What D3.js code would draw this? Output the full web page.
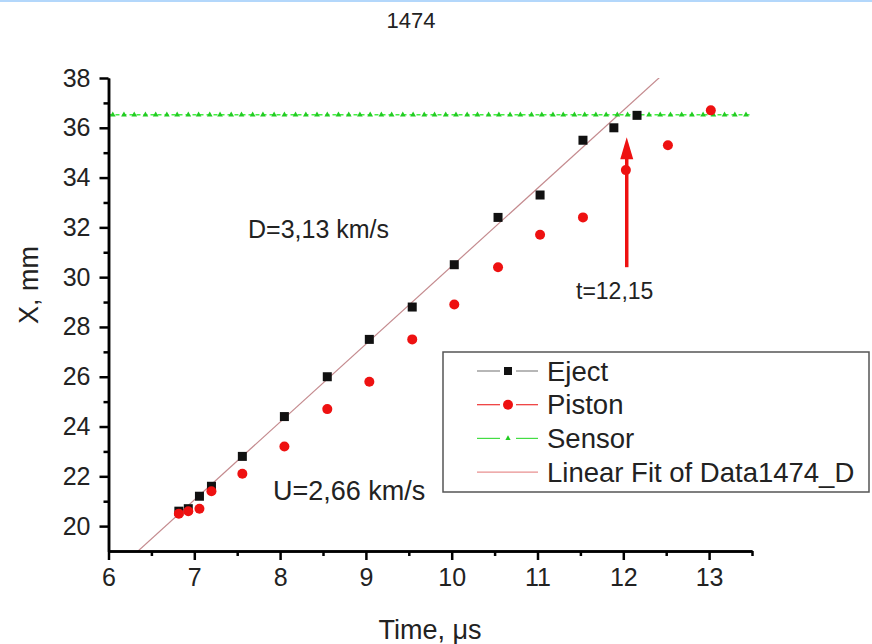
<!DOCTYPE html>
<html>

<head>
  <meta charset="utf-8">
  <style type="text/css">
    body {
      margin: 0;
      background: #fff;
      font-family: "Liberation Sans", Arial, sans-serif;
    }
    .topbar {
      position: absolute;
      left: 0;
      top: 0;
      width: 872px;
      height: 2px;
      background: #b3d7fb;
    }
  </style>
  <title>1474</title>
</head>

<body>
  <div class="topbar"></div>
  <script src="https://cdn.jsdelivr.net/npm/d3@7"></script>
  <script>
    // Eject (black squares)
    var ejectT = [6.82, 6.93, 7.06, 7.2, 7.56, 8.05, 8.55, 9.04, 9.54, 10.03, 10.54, 11.03, 11.53, 11.89, 12.16];
    var ejectX = [20.6, 20.7, 21.2, 21.6, 22.8, 24.4, 26.0, 27.5, 28.8, 30.5, 32.4, 33.3, 35.5, 36.0, 36.5];

    // Piston (red circles)
    var pistonT = [6.82, 6.93, 7.06, 7.2, 7.56, 8.05, 8.55, 9.04, 9.54, 10.03, 10.54, 11.03, 11.53, 12.03, 12.52, 13.02];
    var pistonX = [20.5, 20.6, 20.7, 21.4, 22.1, 23.2, 24.7, 25.8, 27.5, 28.9, 30.4, 31.7, 32.4, 34.3, 35.3, 36.7];

    // Sensor (green triangles, constant level)
    var sensorT = [6.05, 6.18, 6.30, 6.43, 6.55, 6.68, 6.80, 6.93,
      7.05, 7.18, 7.30, 7.43, 7.55, 7.68, 7.80, 7.93,
      8.05, 8.18, 8.30, 8.43, 8.55, 8.68, 8.80, 8.93,
      9.05, 9.18, 9.30, 9.43, 9.55, 9.68, 9.80, 9.93,
      10.05, 10.18, 10.30, 10.43, 10.55, 10.68, 10.80, 10.93,
      11.05, 11.18, 11.30, 11.43, 11.55, 11.68, 11.80, 11.93,
      12.05, 12.18, 12.30, 12.43, 12.55, 12.68, 12.80, 12.93,
      13.05, 13.18, 13.30, 13.43];
    var sensorLevel = 36.52;

    // Linear fit of Data1474_D
    var fitSlope = 3.13;
    var fitIntercept = -0.86;

    var legendNames = ["Eject", "Piston", "Sensor", "Linear Fit of Data1474_D"];
    var xTicks = [6, 7, 8, 9, 10, 11, 12, 13];
    var xMinor = [6.5, 7.5, 8.5, 9.5, 10.5, 11.5, 12.5, 13.5];
    var yTicks = [20, 22, 24, 26, 28, 30, 32, 34, 36, 38];
    var yMinor = [21, 23, 25, 27, 29, 31, 33, 35, 37];

    var arrowT = 12.04, arrowFrom = 30.4, arrowTo = 35.62;

    var W = 872, H = 644;
    var font = '"Liberation Sans", Arial, sans-serif';
    var x = d3.scaleLinear().domain([6, 13.5]).range([108.5, 752]);
    var y = d3.scaleLinear().domain([19, 38]).range([551, 78]);

    var svg = d3.select("body").append("svg")
      .attr("width", W)
      .attr("height", H)
      .style("position", "absolute")
      .style("left", 0)
      .style("top", 0)
      .style("font-family", font);

    svg.append("defs").append("clipPath").attr("id", "plot")
      .append("rect")
      .attr("x", x(6)).attr("y", y(38))
      .attr("width", x(13.5) - x(6)).attr("height", y(19) - y(38));

    // title
    svg.append("text")
      .attr("x", 411).attr("y", 28)
      .attr("text-anchor", "middle")
      .attr("font-size", 22)
      .attr("fill", "#222")
      .text("1474");

    // fit line
    var fitLine = d3.line()
      .x(d => x(d))
      .y(d => y(fitSlope * d + fitIntercept));
    svg.append("path").datum([6, 13.5])
      .attr("clip-path", "url(#plot)")
      .attr("d", fitLine)
      .attr("stroke", "#c48a8e")
      .attr("stroke-width", 1.2)
      .attr("fill", "none");

    // sensor line + triangles
    svg.append("line")
      .attr("x1", x(6)).attr("x2", x(13.5))
      .attr("y1", y(sensorLevel)).attr("y2", y(sensorLevel))
      .attr("stroke", "#44ee44")
      .attr("stroke-width", 1.5)
      .attr("stroke-dasharray", "4,3");
    svg.append("g").selectAll("path")
      .data(sensorT)
      .join("path")
      .attr("transform", d => "translate(" + x(d) + "," + y(sensorLevel) + ")")
      .attr("d", d3.symbol(d3.symbolTriangle, 14))
      .attr("fill", "#22cc22");

    // eject squares
    svg.append("g").selectAll("rect")
      .data(ejectT)
      .join("rect")
      .attr("x", d => x(d) - 4.5)
      .attr("y", (d, i) => y(ejectX[i]) - 4.5)
      .attr("width", 9).attr("height", 9)
      .attr("fill", "#111");

    // piston circles
    svg.append("g").selectAll("circle")
      .data(pistonT)
      .join("circle")
      .attr("cx", d => x(d))
      .attr("cy", (d, i) => y(pistonX[i]))
      .attr("r", 5)
      .attr("fill", "#ee1111");

    // arrow
    svg.append("line")
      .attr("x1", x(arrowT)).attr("x2", x(arrowT))
      .attr("y1", y(arrowFrom)).attr("y2", y(arrowTo) + 18)
      .attr("stroke", "#ee1111")
      .attr("stroke-width", 3.5);
    svg.append("path")
      .attr("d", "M" + x(arrowT) + "," + y(arrowTo) +
        "L" + (x(arrowT) + 6.5) + "," + (y(arrowTo) + 22) +
        "L" + (x(arrowT) - 6.5) + "," + (y(arrowTo) + 22) + "Z")
      .attr("fill", "#ee1111");

    // annotations
    svg.append("text").attr("x", 248).attr("y", 238)
      .attr("font-size", 25).attr("fill", "#222").text("D=3,13 km/s");
    svg.append("text").attr("x", 273).attr("y", 500)
      .attr("font-size", 27).attr("fill", "#222").text("U=2,66 km/s");
    svg.append("text").attr("x", 576).attr("y", 299)
      .attr("font-size", 23).attr("fill", "#222").text("t=12,15");

    // axes
    function styleAxis(g) {
      g.selectAll("path.domain").attr("stroke", "#000").attr("stroke-width", 2.5);
      g.selectAll(".tick line").attr("stroke", "#000").attr("stroke-width", 2.5);
      g.selectAll(".tick text").attr("fill", "#222")
        .style("font-family", font);
    }

    svg.append("g")
      .attr("transform", "translate(0," + y(19) + ")")
      .call(d3.axisBottom(x).tickValues(xMinor).tickSize(5).tickSizeOuter(0).tickFormat(""))
      .call(styleAxis);
    svg.append("g")
      .attr("transform", "translate(0," + y(19) + ")")
      .call(d3.axisBottom(x).tickValues(xTicks).tickSize(9).tickSizeOuter(0).tickPadding(8))
      .call(styleAxis)
      .call(g => g.selectAll(".tick text").attr("font-size", 25));

    svg.append("g")
      .attr("transform", "translate(" + x(6) + ",0)")
      .call(d3.axisLeft(y).tickValues(yMinor).tickSize(5).tickSizeOuter(0).tickFormat(""))
      .call(styleAxis);
    svg.append("g")
      .attr("transform", "translate(" + x(6) + ",0)")
      .call(d3.axisLeft(y).tickValues(yTicks).tickSize(9).tickSizeOuter(0).tickPadding(9))
      .call(styleAxis)
      .call(g => g.selectAll(".tick text").attr("font-size", 25));

    svg.append("text")
      .attr("x", 430).attr("y", 639)
      .attr("text-anchor", "middle")
      .attr("font-size", 27).attr("fill", "#222")
      .text("Time, μs");
    svg.append("text")
      .attr("transform", "translate(38,285) rotate(-90)")
      .attr("text-anchor", "middle")
      .attr("font-size", 27).attr("fill", "#222")
      .text("X, mm");

    // legend
    var lg = svg.append("g");
    lg.append("rect")
      .attr("x", 443).attr("y", 352)
      .attr("width", 426).attr("height", 140)
      .attr("fill", "#fff")
      .attr("stroke", "#555")
      .attr("stroke-width", 1.5);
    var lineColors = ["#888", "#ee3333", "#44dd44", "#e89090"];
    legendNames.forEach(function (name, i) {
      var cy = 371 + i * 33.7;
      if (i < 3) {
        lg.append("line").attr("x1", 477).attr("x2", 500).attr("y1", cy).attr("y2", cy)
          .attr("stroke", lineColors[i]).attr("stroke-width", 1.2);
        lg.append("line").attr("x1", 516).attr("x2", 538).attr("y1", cy).attr("y2", cy)
          .attr("stroke", lineColors[i]).attr("stroke-width", 1.2);
      } else {
        lg.append("line").attr("x1", 477).attr("x2", 538).attr("y1", cy).attr("y2", cy)
          .attr("stroke", lineColors[i]).attr("stroke-width", 1.2);
      }
      if (i === 0) {
        lg.append("rect").attr("x", 504).attr("y", cy - 4).attr("width", 8).attr("height", 8).attr("fill", "#111");
      } else if (i === 1) {
        lg.append("circle").attr("cx", 508).attr("cy", cy).attr("r", 5).attr("fill", "#ee1111");
      } else if (i === 2) {
        lg.append("path").attr("transform", "translate(508," + cy + ")")
          .attr("d", d3.symbol(d3.symbolTriangle, 12)).attr("fill", "#22cc22");
      }
      lg.append("text")
        .attr("x", 547).attr("y", cy + 9.5)
        .attr("font-size", 27.5).attr("fill", "#222")
        .text(name);
    });
  </script>
</body>

</html>
